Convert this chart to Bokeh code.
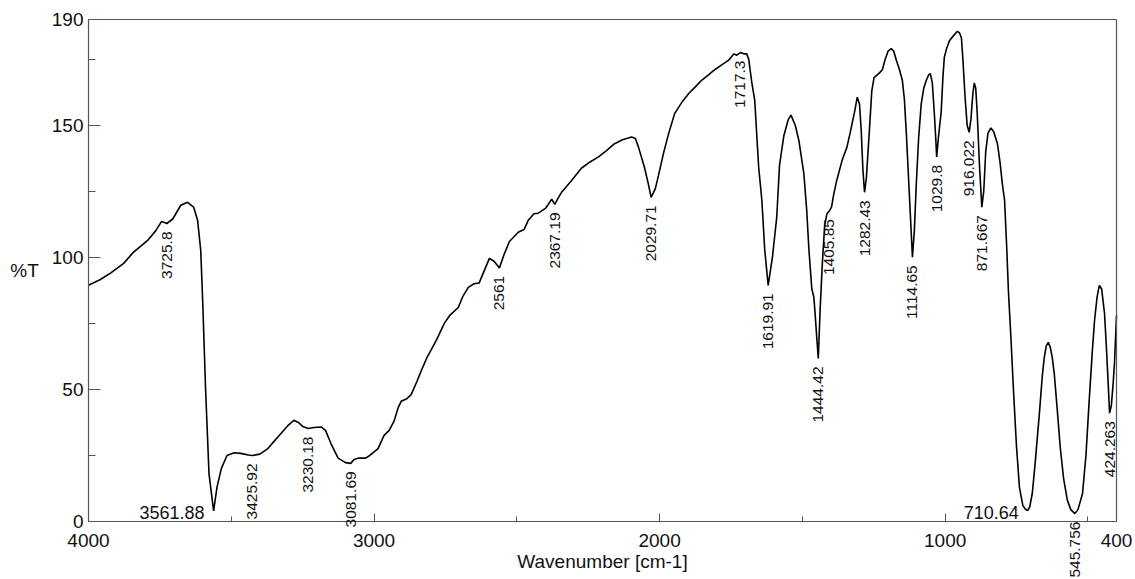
import numpy as np
from bokeh.plotting import figure
from bokeh.models import Range1d, FixedTicker, Label, LinearAxis
from bokeh.embed import file_html
from bokeh.resources import INLINE

# IR transmittance spectrum (wavenumber in cm-1, transmittance in %T)
wavenumber = [
    4000, 3960, 3923, 3877, 3842, 3793, 3765, 3744, 3725.8, 3705, 3677, 3653, 3632, 3618, 3607,
    3600, 3590, 3578, 3561.88, 3550, 3535, 3515, 3490, 3467, 3440, 3425.92, 3400, 3372, 3345,
    3326, 3300, 3281, 3265, 3250, 3230.18, 3210, 3185, 3170, 3151, 3126, 3100, 3081.69, 3070,
    3053, 3030, 3015, 2986, 2965, 2947, 2930, 2916, 2905, 2885, 2870, 2850, 2835, 2815, 2800,
    2780, 2754, 2735, 2705, 2690, 2670, 2650, 2632, 2610, 2596, 2580, 2561, 2545, 2526, 2495,
    2475, 2460, 2440, 2425, 2400, 2390, 2378, 2367.19, 2355, 2344, 2309, 2274, 2245, 2214,
    2185, 2158, 2130, 2098, 2085, 2074, 2053, 2040, 2029.71, 2015, 2004, 1985, 1968, 1947,
    1920, 1898, 1875, 1853, 1830, 1807, 1780, 1758, 1740, 1730, 1717.3, 1705, 1695, 1688,
    1677, 1667, 1653, 1642, 1632, 1619.91, 1605, 1590, 1580, 1565, 1550, 1540, 1525, 1512,
    1495, 1485, 1477, 1467, 1460, 1455, 1450, 1444.42, 1438, 1430, 1422, 1414, 1405.85, 1398,
    1390, 1380, 1361, 1344, 1333, 1316, 1308, 1300, 1294, 1288, 1282.43, 1276, 1266, 1257,
    1249, 1231, 1220, 1210, 1200, 1189, 1180, 1171, 1160, 1150, 1143, 1136, 1126, 1114.65,
    1108, 1101, 1093, 1084, 1075, 1066, 1058, 1052, 1045, 1038, 1033, 1029.8, 1024, 1014,
    1008, 1003, 995, 985, 970, 958, 950, 943, 938, 930, 923, 916.022, 910, 903, 898, 893, 888,
    880, 871.667, 865, 858, 850, 840, 830, 817, 808, 800, 792, 785, 778, 770, 760, 750, 740,
    728, 718, 710.64, 704, 695, 685, 670, 660, 653, 646, 639, 632, 625, 618, 608, 597, 585,
    572, 560, 545.756, 535, 519, 507, 495, 485, 477, 468, 460, 452, 442, 435, 429, 424.263,
    418, 412, 407, 400,
]
transmittance = [
    89.4, 91.5, 94.0, 97.7, 102.0, 106.4, 110.0, 113.6, 112.8, 114.5, 119.7, 120.8, 119.0, 114.0, 102.6,
    83.0, 50.0, 18.0, 4.0, 13.0, 20.0, 25.0, 26.0, 25.8, 25.2, 25.0, 25.5, 27.6, 31.0,
    33.3, 36.5, 38.3, 37.5, 36.0, 35.2, 35.6, 35.8, 34.5, 29.5, 24.0, 22.3, 22.0, 23.5,
    24.0, 24.0, 25.0, 27.6, 32.6, 34.5, 38.0, 43.0, 45.5, 46.5, 48.0, 53.0, 57.0, 62.0, 65.0,
    69.0, 75.0, 78.0, 81.0, 85.0, 88.6, 90.0, 90.3, 96.0, 99.6, 98.5, 96.0, 101.0, 106.0, 109.5,
    110.5, 114.0, 116.5, 116.7, 118.5, 120.0, 122.0, 120.0, 122.5, 124.5, 129.0, 133.7, 136.0, 138.0,
    140.5, 143.0, 144.5, 145.5, 145.0, 141.7, 134.0, 128.0, 122.7, 126.0, 131.0, 140.0, 147.0, 154.5,
    159.0, 162.0, 164.5, 167.0, 169.0, 171.0, 173.0, 174.6, 177.0, 176.5, 177.5, 177.0, 177.0, 175.0,
    166.0, 159.5, 134.0, 121.6, 103.0, 89.4, 100.0, 115.0, 135.0, 146.0, 152.0, 153.8, 150.0, 144.0,
    131.8, 118.0, 102.6, 88.0, 85.0, 78.0, 70.0, 61.7, 80.0, 98.0, 112.0, 116.5, 117.5, 119.0,
    124.0, 129.0, 136.7, 141.7, 147.0, 155.7, 160.6, 158.0, 148.0, 133.0, 124.6, 130.0, 147.0, 163.0,
    168.0, 169.7, 171.0, 175.0, 178.0, 179.0, 178.0, 174.6, 171.0, 167.0, 160.0, 147.0, 125.0, 100.0,
    110.0, 128.0, 145.0, 158.0, 164.0, 167.0, 169.0, 169.5, 166.0, 154.5, 145.0, 138.0, 145.0, 155.0,
    168.0, 175.7, 179.0, 182.0, 184.0, 185.5, 185.0, 183.0, 175.0, 160.0, 150.0, 147.3, 152.0, 162.0, 166.0, 164.0, 155.0,
    135.0, 119.0, 125.0, 140.0, 147.0, 149.0, 147.5, 143.0, 136.0, 128.0, 121.6, 105.0, 86.0, 70.0, 48.0, 28.0, 13.0,
    6.0, 4.5, 4.2, 5.5, 10.6, 22.0, 41.0, 55.0, 62.0, 66.5, 67.8, 66.0, 62.0, 56.0, 43.0, 28.0, 16.0,
    8.0, 4.5, 3.0, 4.5, 10.6, 25.0, 47.0, 64.0, 76.0, 85.0, 89.4, 88.0, 78.8, 65.0, 52.0, 41.0,
    44.0, 52.0, 60.0, 78.0,
]

# Peak annotations: vertical labels below the band, horizontal ones beside it
peaks_vertical = [3725.8, 3425.92, 3230.18, 3081.69, 2561, 2367.19, 2029.71, 1717.3,
                  1619.91, 1444.42, 1405.85, 1282.43, 1114.65, 1029.8, 916.022,
                  871.667, 545.756, 424.263]
peaks_vertical_text = ["3725.8", "3425.92", "3230.18", "3081.69", "2561", "2367.19",
                       "2029.71", "1717.3", "1619.91", "1444.42", "1405.85", "1282.43",
                       "1114.65", "1029.8", "916.022", "871.667", "545.756", "424.263"]
peaks_horizontal = [3561.88, 710.64]
peaks_horizontal_text = ["3561.88", "710.64"]

x_major = [4000, 3000, 2000, 1000, 400]
x_minor = [3500, 2500, 1500, 500]
y_major = [0, 50, 100, 150, 190]
y_minor = [25, 75, 125, 175]
x_span = (4000, 400)
y_span = (0, 190)

FONT = "Liberation Sans"
INK = "#111111"
FRAME = "#555555"

# The drawing area covers the whole canvas; the axes are placed at the edges of
# the 4000-400 cm-1 / 0-190 %T box so that band labels may run past the box.
p = figure(width=1135, height=579, output_backend="svg", toolbar_location=None,
           x_range=Range1d(4308.2, 333.5), y_range=Range1d(-21.95, 197.2),
           x_axis_location=None, y_axis_location=None,
           min_border=0, background_fill_color="white",
           border_fill_color="white")

p.xgrid.visible = False
p.ygrid.visible = False
p.outline_line_color = None

p.line(wavenumber, transmittance, line_color="black", line_width=1.6)

# spectrum value at each annotated band
wn_asc = np.array(wavenumber)[::-1]
t_asc = np.array(transmittance)[::-1]
vy = np.interp(peaks_vertical, wn_asc, t_asc)
hy = np.interp(peaks_horizontal, wn_asc, t_asc)

for x, y, txt in zip(peaks_vertical, vy, peaks_vertical_text):
    p.add_layout(Label(x=x, y=float(y), text=txt, angle=np.pi / 2,
                       text_align="right", text_baseline="middle", y_offset=-8,
                       text_font=FONT, text_font_size="15.5px", text_color=INK))
for x, y, txt in zip(peaks_horizontal, hy, peaks_horizontal_text):
    p.add_layout(Label(x=x, y=float(y), text=txt, angle=0,
                       text_align="right", text_baseline="middle", x_offset=-9,
                       y_offset=-2, text_font=FONT, text_font_size="18px",
                       text_color=INK))


def style(ax):
    ax.axis_line_color = FRAME
    ax.axis_line_width = 1.2
    ax.major_tick_line_color = FRAME
    ax.minor_tick_line_color = FRAME
    ax.major_tick_out = 0
    ax.minor_tick_out = 0
    ax.major_label_text_font = FONT
    ax.major_label_text_font_size = "19px"
    ax.major_label_text_color = INK
    ax.axis_label_text_font = FONT
    ax.axis_label_text_font_size = "19px"
    ax.axis_label_text_font_style = "normal"
    ax.axis_label_text_color = INK
    return ax


xaxis = style(LinearAxis(ticker=FixedTicker(ticks=x_major, minor_ticks=x_minor),
                         axis_label="Wavenumber [cm-1]", fixed_location=y_span[0],
                         bounds=x_span, major_tick_in=8, minor_tick_in=5,
                         major_label_standoff=12, axis_label_standoff=1))
p.add_layout(xaxis, "below")

yaxis = style(LinearAxis(ticker=FixedTicker(ticks=y_major, minor_ticks=y_minor),
                         axis_label="%T", axis_label_orientation="horizontal",
                         fixed_location=x_span[0], bounds=y_span,
                         major_tick_in=12, minor_tick_in=7,
                         major_label_standoff=5, axis_label_standoff=10))
p.add_layout(yaxis, "left")

# plain top and right edges of the plot box
top = style(LinearAxis(ticker=FixedTicker(ticks=[]), fixed_location=y_span[1],
                       bounds=x_span, major_tick_in=0, minor_tick_in=0))
right = style(LinearAxis(ticker=FixedTicker(ticks=[]), fixed_location=x_span[1],
                         bounds=y_span, major_tick_in=0, minor_tick_in=0))
p.add_layout(top, "above")
p.add_layout(right, "right")

open("out.html", "w").write(file_html(p, INLINE))
